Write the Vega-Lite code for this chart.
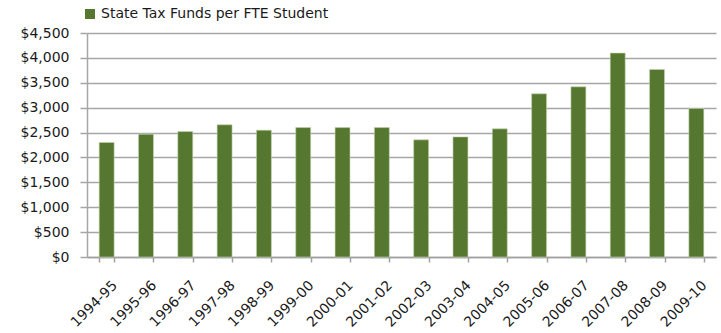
{
  "$schema": "https://vega.github.io/schema/vega-lite/v6.json",
  "autosize": {"type": "none"},
  "width": 629,
  "height": 224,
  "padding": {"left": 87, "top": 33, "right": 5, "bottom": 76},
  "background": "white",
  "data": {
    "values": [
      {"year": "1994-95", "value": 2300, "series": "State Tax Funds per FTE Student"},
      {"year": "1995-96", "value": 2468, "series": "State Tax Funds per FTE Student"},
      {"year": "1996-97", "value": 2520, "series": "State Tax Funds per FTE Student"},
      {"year": "1997-98", "value": 2655, "series": "State Tax Funds per FTE Student"},
      {"year": "1998-99", "value": 2548, "series": "State Tax Funds per FTE Student"},
      {"year": "1999-00", "value": 2600, "series": "State Tax Funds per FTE Student"},
      {"year": "2000-01", "value": 2600, "series": "State Tax Funds per FTE Student"},
      {"year": "2001-02", "value": 2600, "series": "State Tax Funds per FTE Student"},
      {"year": "2002-03", "value": 2353, "series": "State Tax Funds per FTE Student"},
      {"year": "2003-04", "value": 2413, "series": "State Tax Funds per FTE Student"},
      {"year": "2004-05", "value": 2574, "series": "State Tax Funds per FTE Student"},
      {"year": "2005-06", "value": 3278, "series": "State Tax Funds per FTE Student"},
      {"year": "2006-07", "value": 3419, "series": "State Tax Funds per FTE Student"},
      {"year": "2007-08", "value": 4097, "series": "State Tax Funds per FTE Student"},
      {"year": "2008-09", "value": 3767, "series": "State Tax Funds per FTE Student"},
      {"year": "2009-10", "value": 2983, "series": "State Tax Funds per FTE Student"}
    ]
  },
  "config": {
    "view": {"stroke": null},
    "font": "DejaVu Sans",
    "axis": {"labelFont": "DejaVu Sans", "labelColor": "#1a1a1a", "labelFontSize": 14}
  },
  "mark": {"type": "bar", "stroke": "#c5d4b0", "strokeWidth": 0.6},
  "encoding": {
    "x": {
      "field": "year",
      "type": "nominal",
      "sort": null,
      "scale": {"paddingInner": 0.62, "paddingOuter": 0.31},
      "axis": {
        "title": null,
        "labelAngle": -45,
        "labelAlign": "right",
        "labelBaseline": "top",
        "labelPadding": 16,
        "labelOffset": 3,
        "tickBand": "extent",
        "tickSize": 5,
        "tickColor": "#a0a0a0",
        "tickWidth": 1.5,
        "domainColor": "#a0a0a0",
        "domainWidth": 1.5,
        "grid": false
      }
    },
    "y": {
      "field": "value",
      "type": "quantitative",
      "scale": {"domain": [0, 4500], "nice": false},
      "axis": {
        "title": null,
        "values": [0, 500, 1000, 1500, 2000, 2500, 3000, 3500, 4000, 4500],
        "format": "$,.0f",
        "grid": true,
        "gridColor": "#a6a6a6",
        "gridWidth": 1.5,
        "tickSize": 7,
        "tickColor": "#a6a6a6",
        "tickWidth": 1.5,
        "domainColor": "#a6a6a6",
        "domainWidth": 1.5,
        "labelPadding": 11
      }
    },
    "color": {
      "field": "series",
      "type": "nominal",
      "scale": {"range": ["#56772f"]},
      "legend": {
        "title": null,
        "orient": "none",
        "legendX": -4,
        "legendY": -26,
        "symbolType": "square",
        "symbolSize": 100,
        "symbolStrokeWidth": 0,
        "labelFontSize": 14,
        "labelFont": "DejaVu Sans",
        "labelColor": "#1a1a1a",
        "labelOffset": 4,
        "labelLimit": 500
      }
    }
  }
}
